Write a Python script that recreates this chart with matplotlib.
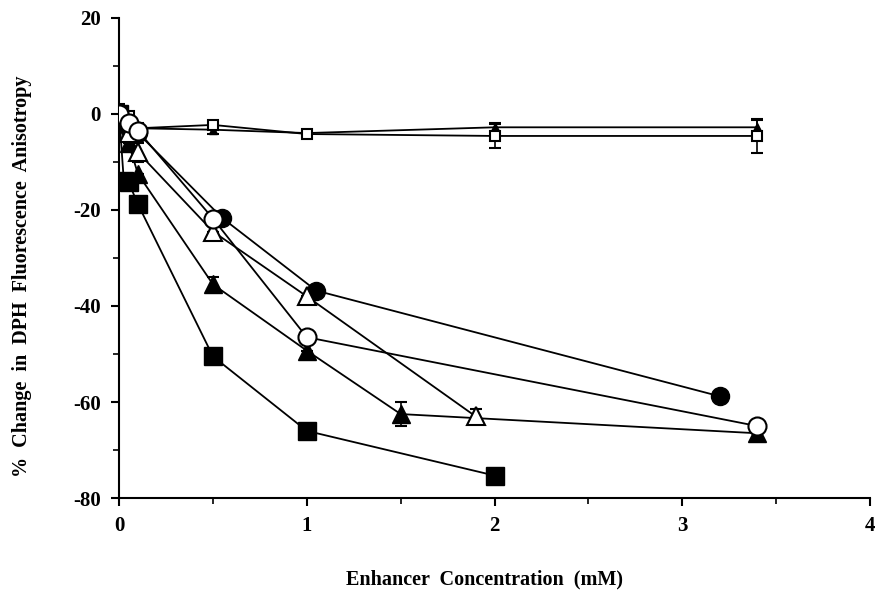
import matplotlib
matplotlib.use("Agg")
import matplotlib.pyplot as plt
from matplotlib.ticker import MultipleLocator

plt.rcParams['font.family'] = ['Liberation Serif', 'DejaVu Serif']
plt.rcParams['font.weight'] = 'bold'
plt.rcParams['axes.unicode_minus'] = False

# filled squares
sq_f_x = [0, 0.025, 0.05, 0.1, 0.5, 1, 2]
sq_f_y = [0, -14, -14.2, -18.8, -50.5, -66, -75.3]

# filled triangles
tri_f_x = [0, 0.05, 0.1, 0.5, 1, 1.5, 3.4]
tri_f_y = [0, -6, -12.5, -35.5, -49.3, -62.5, -66.5]
tri_f_err = [0, 0, 0, 1.5, 0, 2.5, 0]

# open triangles
tri_o_x = [0, 0.05, 0.1, 0.5, 1, 1.9]
tri_o_y = [0, -4, -8, -24.5, -38, -63]
tri_o_err = [0, 0, 2, 0, 0, 1.5]

# open circles
cir_o_x = [0, 0.05, 0.1, 0.5, 1, 3.4]
cir_o_y = [0, -2, -3.5, -21.8, -46.5, -65]

# filled circles
cir_f_x = [0, 0.05, 0.1, 0.55, 1.05, 3.2]
cir_f_y = [0, -3, -4, -21.7, -36.8, -58.8]

# small open squares (flat)
sq_o_x = [0, 0.05, 0.1, 0.5, 1, 2, 3.4]
sq_o_y = [0.5, -0.5, -3, -2.3, -4.2, -4.6, -4.6]
sq_o_err = [1.5, 0, 0, 0, 0, 2.5, 3.5]

# small filled triangles (flat)
tri_s_x = [0, 0.05, 0.1, 0.5, 1, 2, 3.4]
tri_s_y = [-1, -2, -3, -3.3, -4, -2.8, -2.8]
tri_s_err = [0, 0, 0, 0.8, 0, 1, 1.5]

xticks = [0, 1, 2, 3, 4]
yticks = [20, 0, -20, -40, -60, -80]

fig = plt.figure(figsize=(8.76, 5.93), dpi=100)
ax = fig.add_axes([0.136, 0.16, 0.857, 0.81])

lw = 1.3
big = 13
ek = dict(ecolor='black', elinewidth=1.2, capsize=4, capthick=1.5)

ax.errorbar(tri_s_x, tri_s_y, yerr=tri_s_err, color='black', lw=lw, marker='^',
            ms=6, mfc='black', mec='black', zorder=3, **ek)
ax.errorbar(sq_o_x, sq_o_y, yerr=sq_o_err, color='black', lw=lw, marker='s',
            ms=7, mfc='white', mec='black', mew=1.5, zorder=4, **ek)
ax.plot(sq_f_x, sq_f_y, color='black', lw=lw, marker='s', ms=big,
        mfc='black', mec='black', zorder=5)
ax.errorbar(tri_f_x, tri_f_y, yerr=tri_f_err, color='black', lw=lw, marker='^',
            ms=big, mfc='black', mec='black', zorder=5, **ek)
ax.errorbar(tri_o_x, tri_o_y, yerr=tri_o_err, color='black', lw=lw, marker='^',
            ms=big, mfc='white', mec='black', mew=1.5, zorder=5, **ek)
ax.plot(cir_f_x, cir_f_y, color='black', lw=lw, marker='o', ms=big,
        mfc='black', mec='black', zorder=5)
ax.plot(cir_o_x, cir_o_y, color='black', lw=lw, marker='o', ms=big,
        mfc='white', mec='black', mew=1.5, zorder=6)

ax.set_xlim(0, 4)
ax.set_ylim(-80, 20)
ax.set_xticks(xticks)
ax.set_yticks(yticks)
ax.xaxis.set_minor_locator(MultipleLocator(0.5))
ax.yaxis.set_minor_locator(MultipleLocator(10))
ax.spines['top'].set_visible(False)
ax.spines['right'].set_visible(False)
ax.spines['left'].set_linewidth(1.5)
ax.spines['bottom'].set_linewidth(1.5)
ax.tick_params(which='major', length=6, width=1.5, labelsize=15, pad=7)
ax.tick_params(which='minor', length=4, width=1.2)
for lab in ax.get_xticklabels() + ax.get_yticklabels():
    lab.set_fontweight('bold')

ax.set_xlabel('Enhancer  Concentration  (mM)', fontsize=14.5, fontweight='bold')
ax.xaxis.set_label_coords(0.487, -0.148)
ax.set_ylabel('%  Change  in  DPH  Fluorescence  Anisotropy', fontsize=14.5,
              fontweight='bold')
ax.yaxis.set_label_coords(-0.116, 0.4625)

fig.savefig('out.png', dpi=100)
